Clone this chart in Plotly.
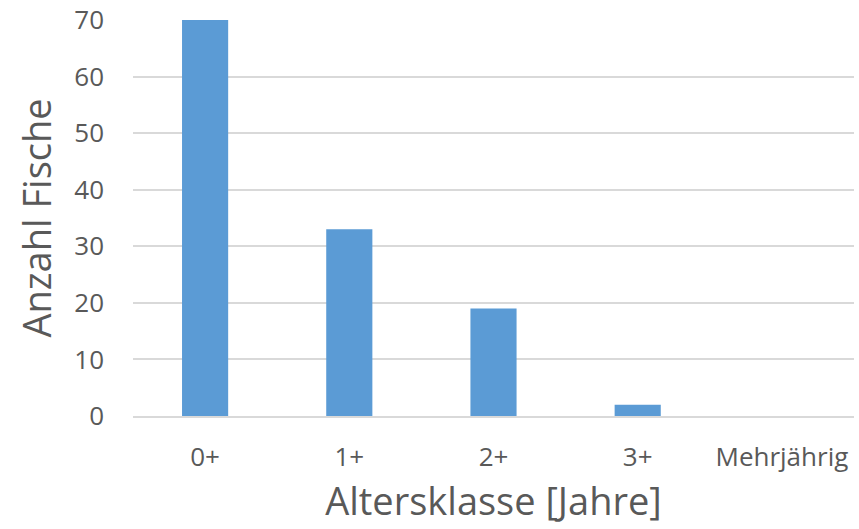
import plotly.graph_objects as go

# Fish counts per age class
age_classes = ["0+", "1+", "2+", "3+", "Mehrjährig"]
fish_counts = [70, 33, 19, 2, 0]
y_ticks = [0, 10, 20, 30, 40, 50, 60, 70]

text_color = "#595959"
font_family = "'Open Sans', sans-serif"

fig = go.Figure(
    go.Bar(
        x=age_classes,
        y=fish_counts,
        marker=dict(color="#5B9BD5", line=dict(width=0)),
    )
)

fig.update_layout(
    width=859,
    height=529,
    margin=dict(l=133, r=5, t=20, b=113),
    paper_bgcolor="white",
    plot_bgcolor="white",
    bargap=0.68,
    showlegend=False,
    font=dict(family=font_family, color=text_color),
)

fig.update_xaxes(
    automargin=False,
    showgrid=False,
    showline=True,
    linecolor="#D9D9D9",
    linewidth=1.5,
    ticks="",
    tickfont=dict(size=26, color=text_color),
    ticklabelstandoff=17,
    title=dict(text="Altersklasse [Jahre]", font=dict(size=38, color=text_color), standoff=12),
)

fig.update_yaxes(
    automargin=False,
    range=[0, 70],
    tickvals=y_ticks,
    showgrid=True,
    gridcolor="#D9D9D9",
    gridwidth=1.5,
    zeroline=False,
    showline=False,
    ticks="",
    tickfont=dict(size=26, color=text_color),
    ticklabelstandoff=28,
    title=dict(text="Anzahl Fische", font=dict(size=38, color=text_color), standoff=10),
)

fig.write_html("out.html")
